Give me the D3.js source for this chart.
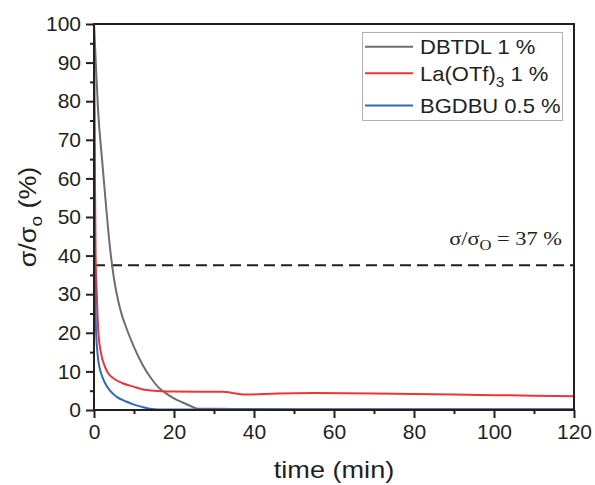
<!DOCTYPE html>
<html>
<head>
<meta charset="utf-8">
<script src="https://cdn.jsdelivr.net/npm/d3@7"></script>
<style>
  body { margin: 0; background: #fff; }
  text { font-family: "Liberation Sans", Arial, sans-serif; fill: #231f20; }
</style>
</head>
<body>
<div id="chart"></div>
<script>
// values
const seriesNames = ["DBTDL 1 %", "La(OTf)3 1 %", "BGDBU 0.5 %"];
const seriesColors = ["#6e6e6e", "#ee3535", "#3068bd"];

const timeDBTDL = [0, 0.5, 1, 2, 3, 4, 5, 6, 7, 8, 10, 12, 14, 16, 18, 20, 22, 24, 26, 30, 40, 60, 80, 100, 120];
const valDBTDL  = [100, 89, 78, 65, 53, 42, 34, 28.5, 24.5, 21.5, 16.3, 12, 8.6, 6, 4.3, 3, 2, 1.1, 0.3, 0.3, 0.25, 0.2, 0.2, 0.2, 0.2];

const timeLa = [0, 0.2, 0.4, 0.7, 1.1, 1.7, 2.7, 3.5, 5, 7, 10, 12, 15, 20, 32, 38, 46, 55, 70, 90, 110, 120];
const valLa  = [100, 65, 40, 30, 20, 15, 11.3, 9.6, 8.1, 7, 6, 5.4, 5.0, 4.8, 4.7, 4.0, 4.3, 4.4, 4.3, 4.0, 3.7, 3.55];

const timeBG = [0, 0.1, 0.25, 0.5, 1, 1.5, 2, 2.75, 4, 5.7, 8, 10, 12, 14, 16, 30, 60, 90, 120];
const valBG  = [100, 70, 40, 21, 13.5, 10.5, 8.8, 7, 5, 3.4, 2.2, 1.4, 0.8, 0.3, 0.1, 0.1, 0.1, 0.1, 0.1];

const xTicks = [0, 20, 40, 60, 80, 100, 120];
const yTicks = [0, 10, 20, 30, 40, 50, 60, 70, 80, 90, 100];
const refLine = 37.5;

const series = [
  { name: seriesNames[0], color: seriesColors[0], data: timeDBTDL.map((t, i) => ({ t, v: valDBTDL[i] })) },
  { name: seriesNames[1], color: seriesColors[1], data: timeLa.map((t, i) => ({ t, v: valLa[i] })) },
  { name: seriesNames[2], color: seriesColors[2], data: timeBG.map((t, i) => ({ t, v: valBG[i] })) }
];

const W = 595, H = 485;
const margin = { top: 24, right: 21, bottom: 75, left: 94 };
const width = W - margin.left - margin.right;
const height = H - margin.top - margin.bottom;

const svg = d3.select("#chart").append("svg")
  .attr("width", W)
  .attr("height", H);

const g = svg.append("g")
  .attr("transform", `translate(${margin.left},${margin.top})`);

const x = d3.scaleLinear().domain([0, 120]).range([0, width]);
const y = d3.scaleLinear().domain([0, 100]).range([height, 0]);

// minor ticks
g.append("g")
  .attr("transform", `translate(0,${height})`)
  .call(d3.axisBottom(x).tickValues(d3.range(10, 120, 20)).tickSize(4).tickFormat(""))
  .call(a => a.select(".domain").remove())
  .call(a => a.selectAll("line").attr("stroke", "#231f20").attr("stroke-width", 2));

g.append("g")
  .call(d3.axisLeft(y).tickValues(d3.range(5, 100, 10)).tickSize(4).tickFormat(""))
  .call(a => a.select(".domain").remove())
  .call(a => a.selectAll("line").attr("stroke", "#231f20").attr("stroke-width", 2));

// X axis
g.append("g")
  .attr("transform", `translate(0,${height})`)
  .call(d3.axisBottom(x).tickValues(xTicks).tickSize(8).tickPadding(6))
  .call(a => a.select(".domain").remove())
  .call(a => a.selectAll("line").attr("stroke", "#231f20").attr("stroke-width", 2))
  .call(a => a.selectAll("text").attr("font-size", 21).attr("fill", "#231f20")
    .attr("font-family", "Liberation Sans, Arial, sans-serif"));

// Y axis
g.append("g")
  .call(d3.axisLeft(y).tickValues(yTicks).tickSize(8).tickPadding(5))
  .call(a => a.select(".domain").remove())
  .call(a => a.selectAll("line").attr("stroke", "#231f20").attr("stroke-width", 2))
  .call(a => a.selectAll("text").attr("font-size", 21).attr("fill", "#231f20")
    .attr("font-family", "Liberation Sans, Arial, sans-serif"));

// reference line
g.append("line")
  .attr("x1", 0).attr("x2", width)
  .attr("y1", y(refLine)).attr("y2", y(refLine))
  .attr("stroke", "#231f20")
  .attr("stroke-width", 2)
  .attr("stroke-dasharray", "11,6");

const ann = g.append("text")
  .attr("transform", `translate(${x(117)},${y(refLine) - 20}) scale(1.18,1)`)
  .attr("text-anchor", "end")
  .style("font-family", "'Liberation Serif', 'Times New Roman', serif")
  .attr("font-size", 19);
ann.append("tspan").text("σ/σ");
ann.append("tspan").attr("dy", 5).attr("font-size", 14).text("O");
ann.append("tspan").attr("dy", -5).text(" = 37 %");

// curves
const line = d3.line()
  .x(d => x(d.t))
  .y(d => y(d.v))
  .curve(d3.curveMonotoneX);

g.selectAll("path.curve")
  .data(series)
  .enter()
  .append("path")
  .attr("class", "curve")
  .attr("d", d => line(d.data))
  .attr("fill", "none")
  .attr("stroke", d => d.color)
  .attr("stroke-width", 2);

// frame
g.append("rect")
  .attr("width", width)
  .attr("height", height)
  .attr("fill", "none")
  .attr("stroke", "#231f20")
  .attr("stroke-width", 2);

// legend
const legend = svg.append("g");
legend.append("rect")
  .attr("x", 362.5).attr("y", 32.5)
  .attr("width", 200).attr("height", 88)
  .attr("fill", "#fff")
  .attr("stroke", "#b0b0b0")
  .attr("stroke-width", 1);

const rowY = [46.7, 73.3, 105.5];
series.forEach((s, i) => {
  legend.append("line")
    .attr("x1", 365).attr("x2", 413)
    .attr("y1", rowY[i]).attr("y2", rowY[i])
    .attr("stroke", s.color)
    .attr("stroke-width", 2);
  const t = legend.append("text")
    .attr("transform", `translate(420,${rowY[i] + 7.5}) scale(1.1,1)`)
    .attr("font-size", 20);
  if (i === 1) {
    t.append("tspan").text("La(OTf)");
    t.append("tspan").attr("dy", 6).attr("font-size", 14).text("3");
    t.append("tspan").attr("dy", -6).text(" 1 %");
  } else {
    t.text(s.name);
  }
});

// axis titles
svg.append("text")
  .attr("transform", `translate(${margin.left + width / 2},478) scale(1.13,1)`)
  .attr("text-anchor", "middle")
  .attr("font-size", 24)
  .text("time (min)");

const yt = svg.append("text")
  .attr("transform", `translate(36,${margin.top + height / 2}) rotate(-90) scale(1.12,1)`)
  .attr("text-anchor", "middle")
  .attr("font-size", 24);
yt.append("tspan").text("σ/σ");
yt.append("tspan").attr("dy", 6).attr("font-size", 17).text("o");
yt.append("tspan").attr("dy", -6).text(" (%)");
</script>
</body>
</html>
